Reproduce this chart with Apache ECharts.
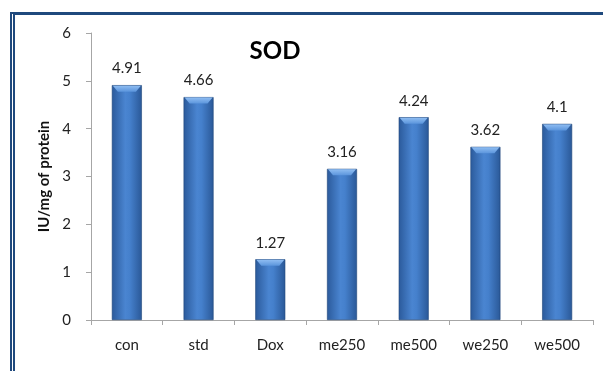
<!DOCTYPE html>
<html>
<head>
<meta charset="utf-8">
<script src="https://cdn.jsdelivr.net/npm/echarts@6/dist/echarts.min.js"></script>
<style>
  html, body { margin: 0; padding: 0; background: #fff; }
  #frame { position: absolute; left: 10px; top: 12px; width: 593px; height: 359px;
           border-left: 5px double #1f497d; border-top: 3px solid #1f497d; box-sizing: border-box; }
  #chart { position: absolute; left: 0; top: 0; width: 603px; height: 371px; }
</style>
</head>
<body>
<div id="frame"></div>
<div id="chart"></div>
<script>
// SOD activity per treatment group
const categories = ['con', 'std', 'Dox', 'me250', 'me500', 'we250', 'we500'];
const sodValues = [4.91, 4.66, 1.27, 3.16, 4.24, 3.62, 4.1];
const yTicks = [0, 1, 2, 3, 4, 5, 6];

const BAR_W = 30;
const barFill = new echarts.graphic.LinearGradient(0, 0, 1, 0, [
  { offset: 0, color: '#2b5a9b' },
  { offset: 0.45, color: '#4a85d1' },
  { offset: 0.6, color: '#4580cc' },
  { offset: 1, color: '#2a5897' }
]);

const chart = echarts.init(document.getElementById('chart'), null, { renderer: 'canvas' });
chart.setOption({
  animation: false,
  title: {
    text: 'SOD', left: 270, top: 34, textAlign: 'center',
    textStyle: { fontFamily: 'Lato', fontWeight: 'bold', fontSize: 24, color: '#000' }
  },
  grid: { left: 91, right: 10, top: 33, bottom: 51 },
  xAxis: {
    type: 'category', data: categories,
    axisLine: { lineStyle: { color: '#a6a6a6' } },
    axisTick: { show: true, alignWithLabel: false, length: 5, lineStyle: { color: '#a6a6a6' } },
    axisLabel: { fontFamily: 'Lato', fontSize: 15, color: '#222', margin: 18 }
  },
  yAxis: {
    type: 'value', min: yTicks[0], max: yTicks[yTicks.length - 1], interval: 1,
    name: 'IU/mg of protein', nameLocation: 'middle', nameGap: 37, nameRotate: 90,
    nameTextStyle: { fontFamily: 'Lato', fontWeight: 'bold', fontSize: 15, color: '#111' },
    axisLine: { show: true, lineStyle: { color: '#a6a6a6' } },
    axisTick: { show: true, length: 5, lineStyle: { color: '#a6a6a6' } },
    splitLine: { show: false },
    axisLabel: { fontFamily: 'Lato', fontSize: 15, color: '#222', margin: 20 }
  },
  series: [{
    type: 'bar', data: sodValues, barWidth: BAR_W, barGap: '-100%',
    itemStyle: { color: barFill, borderColor: '#1f4478', borderWidth: 0.6 },
    label: {
      show: true, position: 'top', distance: 9,
      fontFamily: 'Lato', fontSize: 15, color: '#222'
    }
  }, {
    // light bevel across the top of each bar
    type: 'custom', data: sodValues.map((v, i) => [i, v]), z: 3, silent: true,
    renderItem: function (params, api) {
      const p = api.coord([api.value(0), api.value(1)]);
      const x0 = p[0] - BAR_W / 2 + 1, x1 = p[0] + BAR_W / 2 - 1, y = p[1] + 0.5;
      return {
        type: 'polygon',
        shape: { points: [[x0, y], [x1, y], [x1 - 5, y + 6], [x0 + 5, y + 6]] },
        style: { fill: new echarts.graphic.LinearGradient(0, 0, 0, 1, [
          { offset: 0, color: '#8fbdf2' }, { offset: 1, color: '#5b95dc' }
        ]) }
      };
    }
  }]
});
</script>
</body>
</html>
